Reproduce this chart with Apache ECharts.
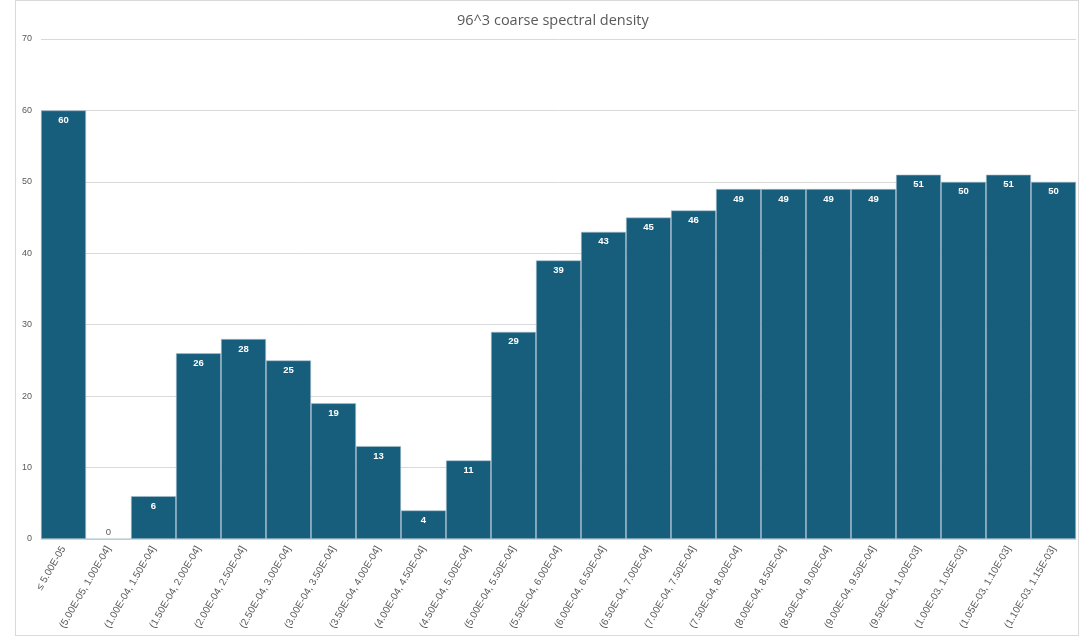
<!DOCTYPE html>
<html>
<head>
<meta charset="utf-8">
<script src="https://cdn.jsdelivr.net/npm/echarts@6/dist/echarts.min.js"></script>
<style>
  html, body { margin: 0; padding: 0; background: #fff; }
  #frame {
    position: absolute; left: 15px; top: 0; width: 1064px; height: 636px;
    border: 1px solid #d9d9d9; box-sizing: border-box;
  }
  #myCharts { position: absolute; left: 0; top: 0; width: 1082px; height: 641px; }
</style>
</head>
<body>
<div id="frame"></div>
<div id="myCharts"></div>
<script>
// bins of the histogram
const binLabels = [
  "≤ 5.00E-05",
  "(5.00E-05, 1.00E-04]",
  "(1.00E-04, 1.50E-04]",
  "(1.50E-04, 2.00E-04]",
  "(2.00E-04, 2.50E-04]",
  "(2.50E-04, 3.00E-04]",
  "(3.00E-04, 3.50E-04]",
  "(3.50E-04, 4.00E-04]",
  "(4.00E-04, 4.50E-04]",
  "(4.50E-04, 5.00E-04]",
  "(5.00E-04, 5.50E-04]",
  "(5.50E-04, 6.00E-04]",
  "(6.00E-04, 6.50E-04]",
  "(6.50E-04, 7.00E-04]",
  "(7.00E-04, 7.50E-04]",
  "(7.50E-04, 8.00E-04]",
  "(8.00E-04, 8.50E-04]",
  "(8.50E-04, 9.00E-04]",
  "(9.00E-04, 9.50E-04]",
  "(9.50E-04, 1.00E-03]",
  "(1.00E-03, 1.05E-03]",
  "(1.05E-03, 1.10E-03]",
  "(1.10E-03, 1.15E-03]"
];
const counts = [60, 0, 6, 26, 28, 25, 19, 13, 4, 11, 29, 39, 43, 45, 46, 49, 49, 49, 49, 51, 50, 51, 50];
const yTicks = { min: 0, max: 70, interval: 10 };

const myCharts = echarts.init(document.getElementById("myCharts"));
let barData = counts.map(function (v) {
  if (v === 0) {
    // empty bin: label sits just above the baseline
    return { value: v, label: { position: "top", distance: 1, color: "#595959", fontWeight: "normal" } };
  }
  return v;
});
let options = {
  animation: false,
  title: {
    text: "96^3 coarse spectral density",
    left: 452,
    top: 8,
    textStyle: { color: "#595959", fontSize: 14.5, fontWeight: "normal", fontFamily: "Open Sans" }
  },
  grid: { left: 41, right: 6, top: 39, bottom: 102 },
  xAxis: {
    type: "category",
    data: binLabels,
    axisLine: { lineStyle: { color: "#d9d9d9" } },
    axisTick: { show: false },
    axisLabel: {
      interval: 0,
      rotate: 60,
      color: "#595959",
      fontSize: 10,
      fontFamily: "Liberation Sans",
      margin: 8
    }
  },
  yAxis: {
    type: "value",
    min: yTicks.min,
    max: yTicks.max,
    interval: yTicks.interval,
    axisLine: { show: false },
    axisTick: { show: false },
    axisLabel: { color: "#595959", fontSize: 9, fontFamily: "Liberation Sans", margin: 9 },
    splitLine: { lineStyle: { color: "#d9d9d9" } }
  },
  series: [
    {
      type: "bar",
      data: barData,
      barCategoryGap: 0,
      itemStyle: { color: "#175e7d", borderColor: "#a9c0cc", borderWidth: 0.6 },
      label: {
        show: true,
        position: "insideTop",
        distance: 5,
        color: "#ffffff",
        fontSize: 9.5,
        fontWeight: "bold",
        fontFamily: "Liberation Sans"
      }
    }
  ]
};
myCharts.setOption(options);
</script>
</body>
</html>
